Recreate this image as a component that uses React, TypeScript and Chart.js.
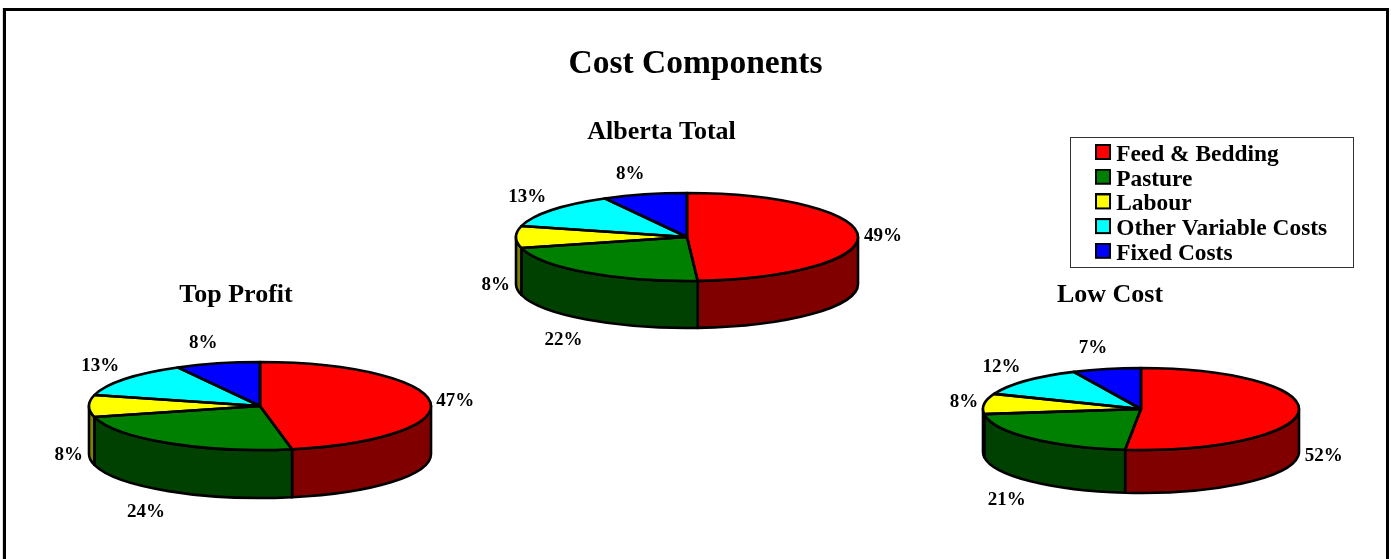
import React, { useEffect, useRef } from "react";
import { Chart, registerables } from "chart.js";

Chart.register(...registerables);

const categories = ["Feed & Bedding", "Pasture", "Labour", "Other Variable Costs", "Fixed Costs"];
const albertaTotal = [49, 22, 8, 13, 8];
const topProfit = [47, 24, 8, 13, 8];
const lowCost = [51.6, 21.4, 8, 12, 7];
const sliceColors = ["#ff0000", "#008000", "#ffff00", "#00ffff", "#0000ff"];
const wallColors = ["#800000", "#004000", "#808000", "#008080", "#000080"];

const FONT = '"Liberation Serif", serif';
const W = 1391;
const H = 559;
const OUTLINE = 2.6;

type PieLayout = {
  name: string; values: number[]; cx: number; cy: number; rx: number; ry: number;
  depth: number; titleX: number; titleY: number;
};
const pies: PieLayout[] = [
  { name: "Alberta Total", values: albertaTotal, cx: 687, cy: 237, rx: 171, ry: 44, depth: 47, titleX: 661.5, titleY: 132 },
  { name: "Top Profit", values: topProfit, cx: 260, cy: 406, rx: 171, ry: 44, depth: 48, titleX: 236, titleY: 295 },
  { name: "Low Cost", values: lowCost, cx: 1141, cy: 409, rx: 158, ry: 41, depth: 43, titleX: 1110, titleY: 295 },
];

const pie3d = (p: PieLayout) => ({
  id: "pie3d",
  beforeDatasetsDraw(chart: any) {
    const ctx = chart.ctx;
    const arcs = chart.getDatasetMeta(0).data;
    // side walls: only the front half of the disc is seen
    arcs.forEach((arc: any, i: number) => {
      const a1 = Math.max(arc.startAngle, 0);
      const a2 = Math.min(arc.endAngle, Math.PI);
      if (a2 <= a1) return;
      ctx.beginPath();
      ctx.ellipse(p.cx, p.cy, p.rx, p.ry, 0, a1, a2);
      ctx.ellipse(p.cx, p.cy + p.depth, p.rx, p.ry, 0, a2, a1, true);
      ctx.closePath();
      ctx.fillStyle = wallColors[i];
      ctx.fill();
      ctx.lineWidth = OUTLINE;
      ctx.strokeStyle = "#000";
      ctx.lineJoin = "round";
      ctx.stroke();
    });
    // the library's arcs are drawn squashed onto the ellipse
    const a0 = arcs[0];
    ctx.save();
    ctx.translate(p.cx, p.cy);
    ctx.scale(p.rx / a0.outerRadius, p.ry / a0.outerRadius);
    ctx.translate(-a0.x, -a0.y);
  },
  afterDatasetsDraw(chart: any) {
    const ctx = chart.ctx;
    ctx.restore();
    const arcs = chart.getDatasetMeta(0).data;
    ctx.lineWidth = OUTLINE;
    ctx.strokeStyle = "#000";
    ctx.lineJoin = "round";
    arcs.forEach((arc: any) => {
      ctx.beginPath();
      ctx.moveTo(p.cx, p.cy);
      ctx.ellipse(p.cx, p.cy, p.rx, p.ry, 0, arc.startAngle, arc.endAngle);
      ctx.closePath();
      ctx.stroke();
    });
    // percentage labels
    const total = p.values.reduce((a, b) => a + b, 0);
    ctx.fillStyle = "#000";
    ctx.textAlign = "center";
    ctx.textBaseline = "middle";
    ctx.font = `bold 19px ${FONT}`;
    arcs.forEach((arc: any, i: number) => {
      const mid = (arc.startAngle + arc.endAngle) / 2;
      const text = `${Math.round((p.values[i] / total) * 100)}%`;
      const hw = ctx.measureText(text).width / 2;
      const c = Math.cos(mid);
      const s = Math.sin(mid);
      const front = s >= -1e-6;
      const gap = Math.pow(Math.abs(c), 0.35) * (hw + 9) - 3 * Math.pow(c, 4);
      const x = p.cx + p.rx * c + Math.sign(c) * gap;
      const y = p.cy + p.ry * s + s * 22 + (front ? p.depth + 3 - 2 * Math.pow(c, 4) : 1);
      ctx.fillText(text, x, y);
    });
    ctx.font = `bold 26px ${FONT}`;
    ctx.fillText(p.name, p.titleX, p.titleY);
  },
});

function PieCanvas({ layout, withTitle }: { layout: PieLayout; withTitle: boolean }) {
  const ref = useRef<HTMLCanvasElement>(null);
  useEffect(() => {
    const chart = new Chart(ref.current!, {
      type: "pie",
      data: {
        labels: categories,
        datasets: [{ data: layout.values, backgroundColor: sliceColors, borderWidth: 0, clip: false } as any],
      },
      options: {
        responsive: false,
        animation: false,
        plugins: {
          legend: { display: false },
          tooltip: { enabled: false },
          title: {
            display: withTitle,
            text: "Cost Components",
            color: "#000",
            font: { family: FONT, size: 33.5, weight: "bold" },
            padding: { top: 44, bottom: 0 },
          },
        },
      },
      plugins: [pie3d(layout)],
    } as any);
    return () => chart.destroy();
  }, []);
  return <canvas ref={ref} width={W} height={H} style={{ position: "absolute", left: 0, top: 0, width: W, height: H }} />;
}

// Legend key: a black-edged square in the upper 16px of the image, so that it
// sits level with the visual middle of the legend text.
const swatch = (color: string) => {
  const k = document.createElement("canvas");
  k.width = 16;
  k.height = 22;
  const g = k.getContext("2d")!;
  g.fillStyle = "#000";
  g.fillRect(0, 0, 16, 16);
  g.fillStyle = color;
  g.fillRect(2, 2, 12, 12);
  return k;
};

function LegendCanvas() {
  const ref = useRef<HTMLCanvasElement>(null);
  useEffect(() => {
    const chart = new Chart(ref.current!, {
      type: "pie",
      data: {
        labels: categories,
        datasets: [{ data: albertaTotal, backgroundColor: sliceColors }],
      },
      options: {
        responsive: false,
        animation: false,
        layout: { padding: { left: 10.2 } },
        plugins: {
          tooltip: { enabled: false },
          legend: {
            position: "left",
            align: "start",
            labels: {
              usePointStyle: true,
              pointStyleWidth: 3,
              padding: 1.3,
              color: "#000",
              font: { family: FONT, size: 23.4, weight: "bold" },
              generateLabels: () =>
                categories.map((text, i) => ({
                  text,
                  fillStyle: sliceColors[i],
                  strokeStyle: "#000",
                  lineWidth: 0,
                  pointStyle: swatch(sliceColors[i]),
                  index: i,
                  hidden: false,
                })),
            },
          },
        },
      },
      plugins: [
        {
          id: "legendOnly",
          // the keys hang left of the legend box, so its clip is dropped
          beforeDraw(c: any) {
            c.legend.draw = function () {
              this._draw();
            };
          },
          beforeDatasetsDraw: () => false,
        },
      ],
    } as any);
    return () => chart.destroy();
  }, []);
  return <canvas ref={ref} width={600} height={135} style={{ position: "absolute", left: 1090, top: 142, width: 600, height: 135 }} />;
}

export default function App() {
  useEffect(() => {
    document.body.style.margin = "0";
    document.body.style.background = "#fff";
  }, []);
  return (
    <div style={{ position: "relative", width: W, height: H, overflow: "hidden", background: "#fff" }}>
      <div style={{ position: "absolute", left: 2, top: 8, width: 1, height: 560, background: "#ddd" }} />
      <div style={{ position: "absolute", left: 3, top: 8, width: 1386, height: 560, border: "3px solid #000", boxSizing: "border-box" }} />
      <div style={{ position: "absolute", left: 1070, top: 137, width: 284, height: 131, border: "1px solid #333", boxSizing: "border-box" }} />
      {pies.map((p, i) => <PieCanvas key={p.name} layout={p} withTitle={i === 0} />)}
      <LegendCanvas />
    </div>
  );
}
